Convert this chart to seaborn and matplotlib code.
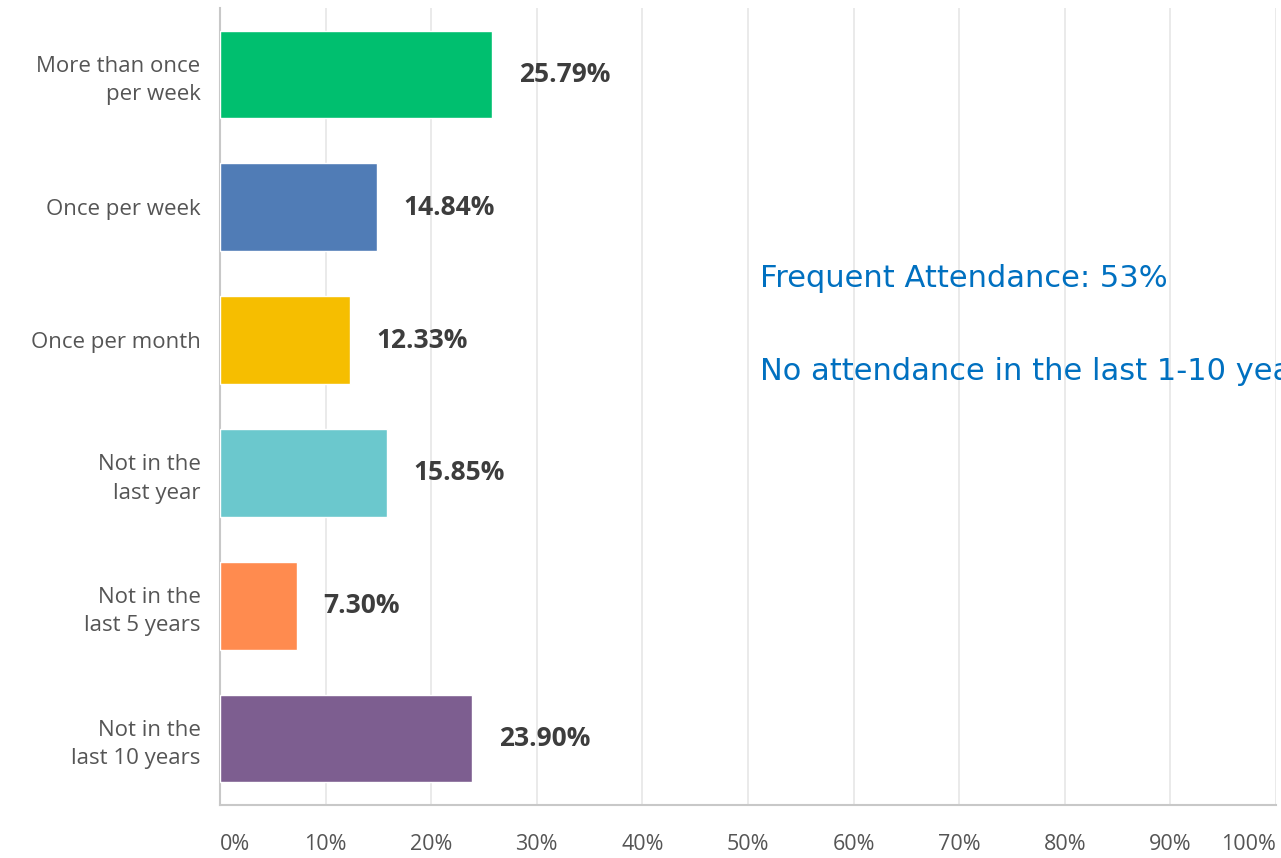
import numpy as np
import pandas as pd
import matplotlib
matplotlib.use('Agg')
import matplotlib.pyplot as plt
import seaborn as sns

# datos
categorias = ['More than once\nper week', 'Once per week', 'Once per month',
              'Not in the\nlast year', 'Not in the\nlast 5 years', 'Not in the\nlast 10 years']
porcentajes = [25.79, 14.84, 12.33, 15.85, 7.30, 23.90]
colores = ['#00BF6F', '#507CB6', '#F6BE00', '#6BC8CD', '#FF8B4F', '#7D5E90']
ticks = [0, 10, 20, 30, 40, 50, 60, 70, 80, 90, 100]
notas = ['Frequent Attendance: 53%', 'No attendance in the last 1-10 years: 47%']

sns.set_style('white')
plt.rcParams['font.family'] = ['Open Sans', 'DejaVu Sans']

datos = pd.DataFrame({'categoria': categorias, 'porcentaje': porcentajes})

fig = plt.figure(figsize=(12.81, 8.58), dpi=100)
ax = fig.add_axes([220 / 1281, 53 / 858, 1056 / 1281, 797 / 858])

sns.barplot(data=datos, y='categoria', x='porcentaje', hue='categoria',
            palette=colores, legend=False, width=0.66, saturation=1, ax=ax, zorder=3)

ax.set_xlim(0, 100)
ax.set_ylim(5.5, -0.5)
ax.set_xticks(ticks)
ax.set_xticklabels([f'{t}%' for t in ticks], fontsize=15.5, color='#555555')
ax.tick_params(axis='x', length=0, pad=21)
ax.tick_params(axis='y', length=0, pad=14, labelsize=16, labelcolor='#555555')
lbls = ax.get_xticklabels()
lbls[0].set_ha('left')
lbls[-1].set_ha('right')
for l in ax.get_yticklabels():
    l.set_ha('right')
    l.set_multialignment('right')
    l.set_linespacing(1.45)

ax.set_xlabel('')
ax.set_ylabel('')
ax.grid(axis='x', color='#e6e6e6', linewidth=1.2, zorder=0)
for s in ['top', 'right']:
    ax.spines[s].set_visible(False)
ax.spines['left'].set_color('#c8c8c8')
ax.spines['bottom'].set_color('#c8c8c8')
ax.spines['left'].set_linewidth(1.5)
ax.spines['bottom'].set_linewidth(1.5)

# etiquetas de valor
for i, v in enumerate(porcentajes):
    ax.text(v + 2.5, i, f'{v:.2f}%', va='center', ha='left', fontsize=19,
            fontweight='bold', color='#3d3d3d')

# notas en azul (la segunda queda cortada en el borde, como en el original)
fig.text(760 / 1281, 1 - 287 / 858, notas[0], fontsize=22, color='#0070C0',
         family=['DejaVu Sans'], va='baseline')
fig.text(760 / 1281, 1 - 380 / 858, notas[1], fontsize=22, color='#0070C0',
         family=['DejaVu Sans'], va='baseline')

fig.savefig('out.png', dpi=100)
